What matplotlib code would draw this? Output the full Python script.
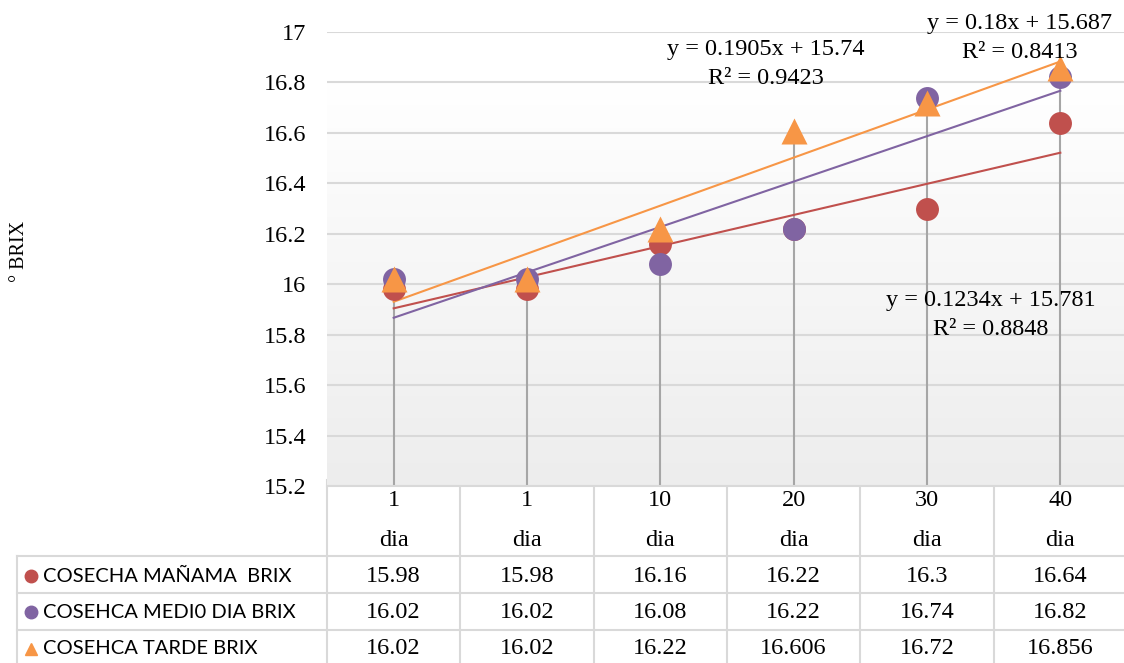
import numpy as np
import matplotlib
matplotlib.use("Agg")
import matplotlib.pyplot as plt
from matplotlib.colors import LinearSegmentedColormap
from matplotlib.transforms import blended_transform_factory

# data
dias = ["1", "1", "10", "20", "30", "40"]
series_names = ["COSECHA MAÑAMA  BRIX", "COSEHCA MEDI0 DIA BRIX", "COSEHCA TARDE BRIX"]
manana = [15.98, 15.98, 16.16, 16.22, 16.3, 16.64]
medio_dia = [16.02, 16.02, 16.08, 16.22, 16.74, 16.82]
tarde = [16.02, 16.02, 16.22, 16.606, 16.72, 16.856]
table_text = [["15.98", "15.98", "16.16", "16.22", "16.3", "16.64"],
              ["16.02", "16.02", "16.08", "16.22", "16.74", "16.82"],
              ["16.02", "16.02", "16.22", "16.606", "16.72", "16.856"]]
# linear trend (slope, intercept, r2), x = 1..6
trends = [(0.1234, 15.781, 0.8848), (0.18, 15.687, 0.8413), (0.1905, 15.74, 0.9423)]

colors = ["#C0504D", "#8064A2", "#F79646"]
markers = ["o", "o", "^"]
plt.rcParams["font.family"] = ["Liberation Serif", "DejaVu Serif"]
sans = ["Lato", "DejaVu Sans"]
fs = 17.5

W, H = 1124, 663
fig = plt.figure(figsize=(W / 100, H / 100), dpi=100)

# overlay in pixel units for the table
ov = fig.add_axes([0, 0, 1, 1], zorder=0)
ov.set_xlim(0, W)
ov.set_ylim(H, 0)
ov.axis("off")

left, right, top, bottom = 327, 1127, 32, 486
ax = fig.add_axes([left / W, 1 - bottom / H, (right - left) / W, (bottom - top) / H], zorder=1)
ax.set_facecolor("none")
x = np.arange(len(dias))
ax.set_xlim(-0.5, len(dias) - 0.5)
ax.set_ylim(15.2, 17)

# plot area gradient
grad = np.linspace(0, 1, 256).reshape(-1, 1)
ax.imshow(grad, extent=(-0.5, len(dias) - 0.5, 15.2, 16.8), aspect="auto",
          cmap=LinearSegmentedColormap.from_list("g", ["#ededed", "#ffffff"]),
          origin="lower", zorder=0)

yt = np.arange(15.2, 17.01, 0.2).round(1)
ax.set_yticks(yt)
ax.set_yticklabels([f"{v:g}" for v in yt], fontsize=fs)
ax.grid(axis="y", color="#d9d9d9", lw=1.5, zorder=1)
ax.tick_params(axis="y", length=0, pad=15)
ax.set_xticks([])
for s in ["left", "right", "top"]:
    ax.spines[s].set_visible(False)
ax.spines["bottom"].set_color("#d9d9d9")
ax.spines["bottom"].set_linewidth(1.5)

# drop lines
tops = np.max([manana, medio_dia, tarde], axis=0)
ax.vlines(x, 15.2, tops, color="#a6a6a6", lw=1.5, zorder=2)

for vals, c, m, (a, b, r2) in zip([manana, medio_dia, tarde], colors, markers, trends):
    ax.plot(x, vals, ls="none", marker=m, ms=16.5 if m == "o" else 18.5, color=c,
            mec="none", zorder=4, clip_on=False)
    ax.plot(x, a * (x + 1) + b, color=c, lw=1.5, zorder=3)

# trend equations, placed in pixel units but drawn above the grid
eq_pos = [(991, 315), (1020, 38), (766, 64)]
for (a, b, r2), (px, py) in zip(trends, eq_pos):
    ax.text(px, py, f"y = {a:g}x + {b:g}\nR² = {r2:g}", transform=ov.transData,
            ha="center", va="center", fontsize=fs, linespacing=1.45, zorder=5, clip_on=False)

fig.text(20 / W, 1 - 251 / H, "° BRIX", rotation=90, ha="center", va="center", fontsize=14.5)

# data table
tr = blended_transform_factory(ax.transData, ov.transData)
lc = "#d9d9d9"
row_y = [556, 593, 630, 667]
for i in range(len(dias) + 1):
    ov.plot([i - 0.5, i - 0.5], [bottom - 6, H], color=lc, lw=1.5, transform=tr, clip_on=False)
ov.plot([17, 17], [556, H], color=lc, lw=1.5)
for yy in row_y[:3]:
    ov.plot([17, right], [yy, yy], color=lc, lw=1.5)
for i, d in enumerate(dias):
    ov.text(i, 501, d, transform=tr, ha="center", va="center", fontsize=fs)
    ov.text(i, 541, "dia", transform=tr, ha="center", va="center", fontsize=fs)
for r, (name, c, m) in enumerate(zip(series_names, colors, markers)):
    yc = [576, 612, 649][r]
    ov.plot([31], [yc], marker=m, ms=9, color=c, ls="none")
    ov.text(43, yc, name, ha="left", va="center", fontfamily=sans, fontsize=14.5)
    for i, t in enumerate(table_text[r]):
        ov.text(i, yc, t, transform=tr, ha="center", va="center", fontsize=fs)

fig.savefig("out.png", dpi=100)
